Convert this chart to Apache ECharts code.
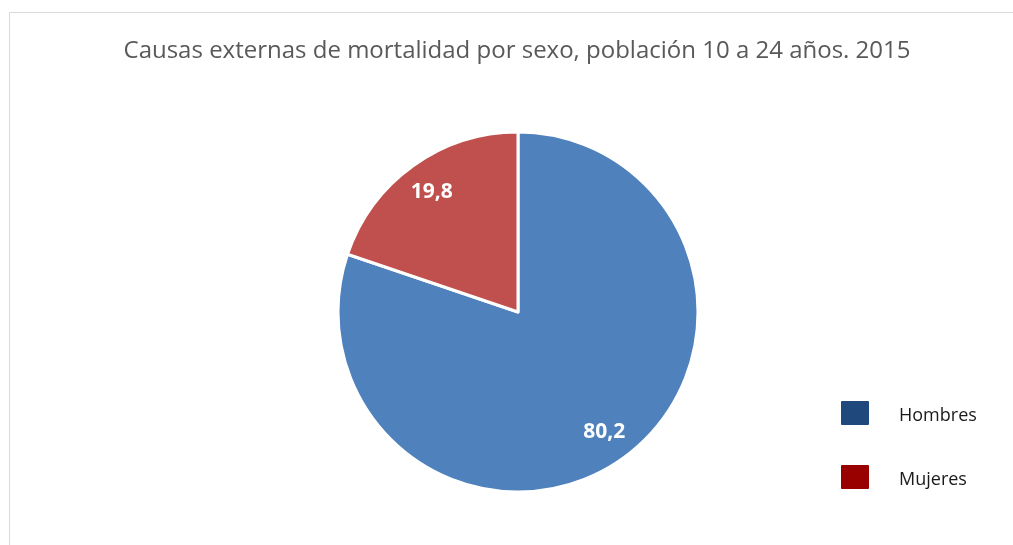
<!DOCTYPE html>
<html><head><meta charset="utf-8">
<script src="https://cdn.jsdelivr.net/npm/echarts@6/dist/echarts.min.js"></script>
<style>html,body{margin:0;padding:0;background:#fff}#c{width:1013px;height:545px}</style>
</head><body><div id="c"></div>
<script>
const categories = ['Hombres', 'Mujeres'];
const values = [80.2, 19.8];
const sliceColors = ['#4F81BD', '#C0504D'];
const legendColors = ['#1F497D', '#990000'];
const titleText = 'Causas externas de mortalidad por sexo, población 10 a 24 años. 2015';

const chart = echarts.init(document.getElementById('c'), null, {renderer: 'canvas'});
const data = categories.map((n, i) => ({name: n, value: values[i], itemStyle: {color: sliceColors[i]}}));
const fmt = p => String(p.value).replace('.', ',');
chart.setOption({
  animation: false,
  title: {
    text: titleText, left: 517, textAlign: 'center', top: 39, padding: 0,
    textStyle: {fontFamily: 'Open Sans', fontSize: 24, fontWeight: 'normal', color: '#595959'}
  },
  graphic: [
    {type: 'line', shape: {x1: 9.5, y1: 12.5, x2: 1013, y2: 12.5}, style: {stroke: '#d9d9d9', lineWidth: 1}},
    {type: 'line', shape: {x1: 9.5, y1: 12.5, x2: 9.5, y2: 545}, style: {stroke: '#d9d9d9', lineWidth: 1}}
  ],
  legend: {
    orient: 'vertical', left: 839, top: 399, padding: 0,
    itemWidth: 30, itemHeight: 26, itemGap: 36,
    icon: 'path://M2,0 L28,0 Q30,0 30,2 L30,24 Q30,26 28,26 L2,26 Q0,26 0,24 L0,2 Q0,0 2,0 Z',
    formatter: '{a|{name}}',
    textStyle: {fontFamily: 'Open Sans', fontSize: 18, color: '#1a1a1a',
      rich: {a: {fontFamily: 'Open Sans', fontSize: 18, color: '#1a1a1a', padding: [5, 0, 0, 24]}}},
    data: categories.map((n, i) => ({name: n, itemStyle: {color: legendColors[i]}}))
  },
  series: [{
    type: 'pie', center: [518, 312], radius: 180,
    startAngle: 90, clockwise: true,
    itemStyle: {borderColor: '#fff', borderWidth: 3},
    label: {show: false}, labelLine: {show: false},
    emphasis: {disabled: true},
    data: data
  }, {
    type: 'pie', center: [518, 312], radius: [110, 180],
    startAngle: 90, clockwise: true, silent: true,
    legendHoverLink: false,
    itemStyle: {color: 'rgba(0,0,0,0)', borderWidth: 0},
    label: {show: true, position: 'inside', formatter: fmt,
      fontFamily: 'Open Sans', fontSize: 21, fontWeight: 'bold', color: '#fff'},
    labelLine: {show: false},
    emphasis: {disabled: true},
    data: categories.map((n, i) => ({name: n, value: values[i]}))
  }]
});
</script></body></html>
